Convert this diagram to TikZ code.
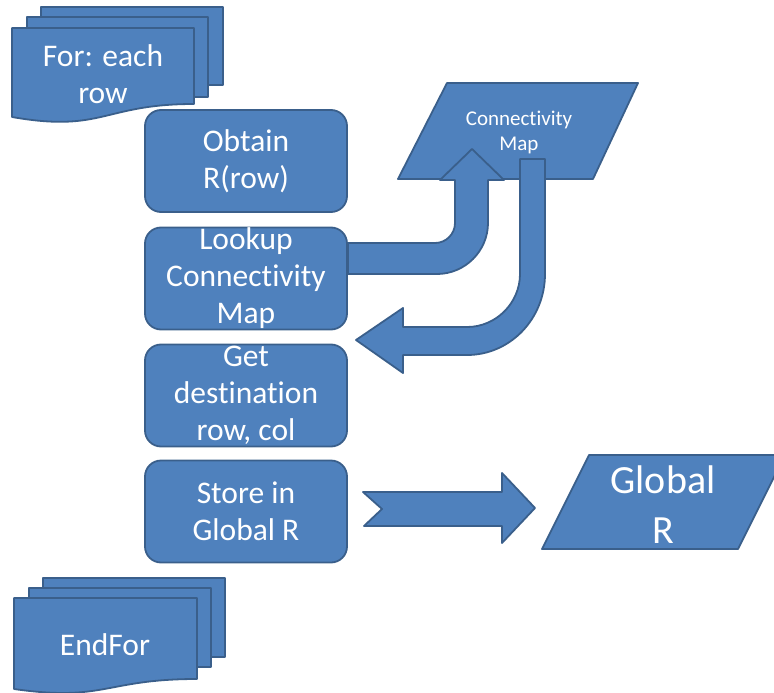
\documentclass[tikz,border=0pt]{standalone}
\usepackage{fontspec}
\setmainfont{Carlito}[Ligatures=NoCommon]
\definecolor{fillblue}{HTML}{4F81BD}
\definecolor{edgeblue}{HTML}{3A5F8B}
\begin{document}
\begin{tikzpicture}[x=1pt,y=-1pt,
  shp/.style={fill=fillblue,draw=edgeblue,line width=1.8pt,line join=round},
  box/.style={shp,rounded corners=16pt,minimum width=202pt,minimum height=102pt,inner sep=0pt},
  txt/.style={text=white,align=center,font=\fontsize{31.5}{37}\selectfont,inner sep=0pt}]
\useasboundingbox (0,0) rectangle (774,693);
% For: each row (multi-document)
\path[shp] (41,7) rectangle (223,85);
\path[shp] (27,17) rectangle (208,97);
\path[shp] (12,28) -- (194,28) -- (194,104) .. controls (103,104) and (103,133) .. (12,117) -- cycle;
\node[txt] (forn) at (103,74) {For: each\\row};
% EndFor (multi-document)
\path[shp] (43,578) rectangle (225,657);
\path[shp] (29,588) rectangle (211,667);
\path[shp] (14,598) -- (197,598) -- (197,679) .. controls (105,679) and (105,702) .. (14,689) -- cycle;
\node[txt] (endfor) at (105,645) {EndFor};
% process boxes
\node[box] (obtain) at (246,161) {};
\node[txt] at (obtain.center) {Obtain\\R(row)};
\node[box] (lookup) at (246,278.5) {};
\node[txt] at (lookup.center) {Lookup\\Connectivity\\Map};
\node[box] (getd) at (246,395.5) {};
\node[txt] at (getd.center) {Get\\destination\\row, col};
\node[box] (store) at (246,511.5) {};
\node[txt] at (store.center) {Store in\\Global R};
% Connectivity Map data shape
\path[shp] (447,83) -- (638,83) -- (593,179) -- (398,179) -- cycle;
\node[txt,font=\fontsize{21}{25}\selectfont] (cmap) at (519,132) {Connectivity\\Map};
% bent-up arrow from Lookup to the map
\path[shp] (348,243) -- (435,243) .. controls (446,243) and (455,234) .. (455,223)
  -- (455,180) -- (440,180) -- (472,149) -- (504,180) -- (488,180) -- (488,223)
  .. controls (488,251) and (465,274) .. (437,274) -- (348,274) -- cycle;
% bent arrow from the map back to Get destination
\path[shp] (520,159) -- (545,159) -- (545,274)
  .. controls (545,319) and (510,355) .. (467,355) -- (403,355) -- (403,373)
  -- (356,340) -- (403,308) -- (403,327) -- (467,327)
  .. controls (496,327) and (520,303) .. (520,274) -- cycle;
% notched arrow to Global R
\path[shp] (363,492) -- (502,492) -- (502,473) -- (535,508) -- (502,543)
  -- (502,526) -- (364,526) -- (382,509) -- cycle;
% Global R data shape
\path[shp] (589,455) -- (785,455) -- (738,549) -- (542,549) -- cycle;
\node[txt,font=\fontsize{40}{50}\selectfont] (globr) at (663,505) {Global\\R};
\end{tikzpicture}
\end{document}
